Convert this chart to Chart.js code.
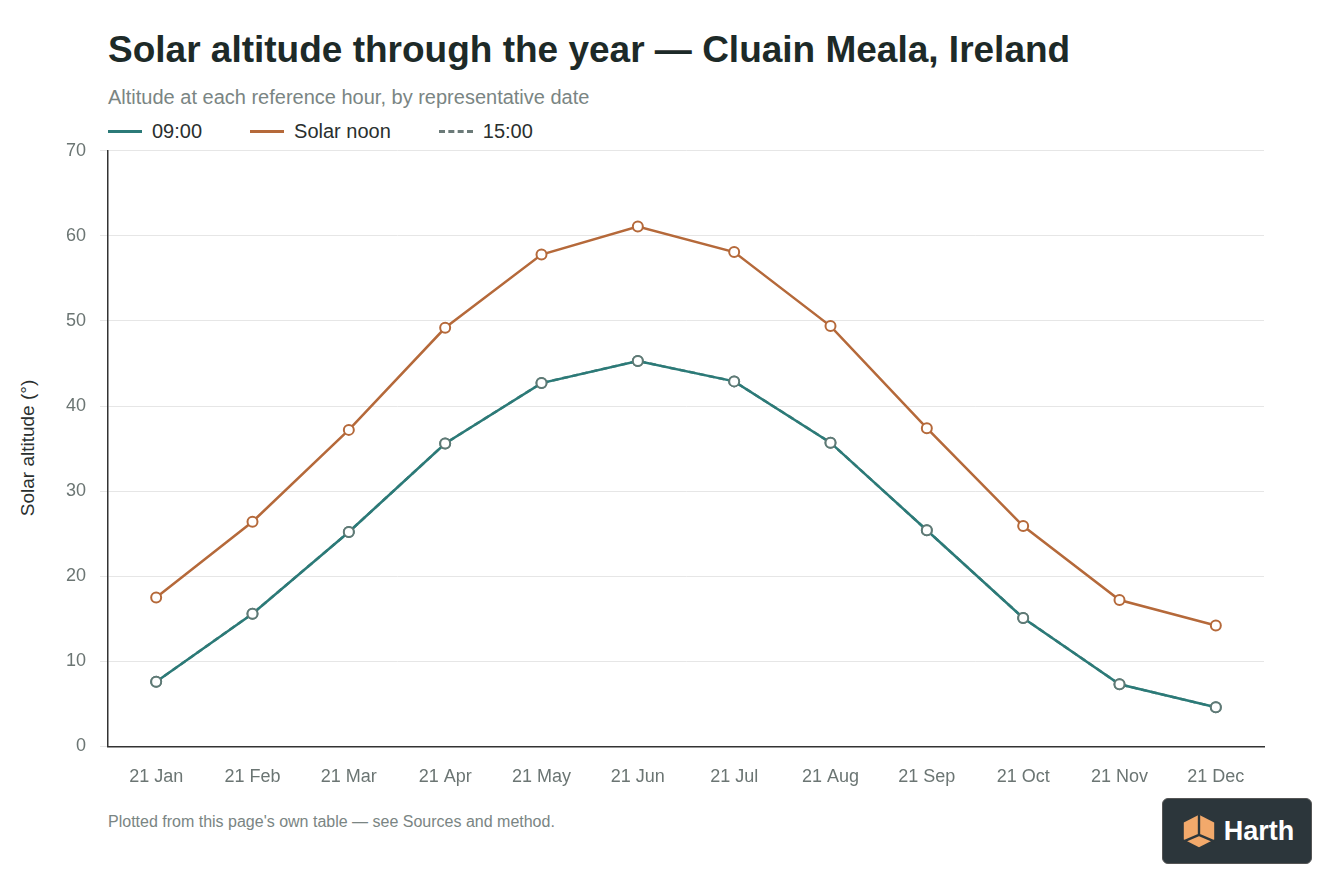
<!DOCTYPE html>
<html><head><meta charset="utf-8">
<script src="https://cdn.jsdelivr.net/npm/chart.js@4"></script>
<style>
body{margin:0;width:1344px;height:896px;background:#fff;font-family:"Helvetica Neue",Arial,"Liberation Sans",sans-serif;position:relative;overflow:hidden}
h1{position:absolute;left:108px;top:29px;margin:0;font-size:37px;font-weight:700;color:#1d2a28}
.sub{position:absolute;left:108px;top:86px;font-size:20px;color:#7a8583}
.legend{position:absolute;left:108px;top:120px;font-size:20px;color:#2a2f2e;display:flex}
.legend span{display:flex;align-items:center;margin-right:48px}
.legend i{display:inline-block;width:34px;height:0;border-top:3px solid;margin-right:10px}
.foot{position:absolute;left:108px;top:813px;font-size:16px;color:#7a8583}
.ytitle{position:absolute;left:28px;top:448px;transform:translate(-50%,-50%) rotate(-90deg);font-size:19px;color:#2a2f2e;white-space:nowrap}
.logo{position:absolute;left:1162px;top:798px;width:148px;height:64px;background:#2c363b;border-radius:6px;border:1px solid #555;display:flex;align-items:center;justify-content:center;color:#fff;font-weight:700;font-size:27px}
#wrap{position:absolute;left:0;top:126px;width:1290px;height:674px}
</style></head><body>
<h1>Solar altitude through the year — Cluain Meala, Ireland</h1>
<div class="sub">Altitude at each reference hour, by representative date</div>
<div class="legend">
<span><i style="border-color:#2b7a78"></i>09:00</span>
<span><i style="border-color:#b5693a"></i>Solar noon</span>
<span><i style="border-top:3px dashed #6b7a78"></i>15:00</span>
</div>
<div class="ytitle">Solar altitude (°)</div>
<div id="wrap"><canvas id="c"></canvas></div>
<div class="foot">Plotted from this page's own table — see Sources and method.</div>
<div class="logo"><svg width="38" height="38" viewBox="0 0 40 40" style="margin-right:6px"><polygon points="20,3 36,11 36,29 20,37 4,29 4,11" fill="#f2a96b"/><path d="M20,3 L20,24 M20,24 L4,31 M20,24 L36,31" stroke="#2c363b" stroke-width="2.5" fill="none"/></svg>Harth</div>
<script>
const dates = ['21 Jan','21 Feb','21 Mar','21 Apr','21 May','21 Jun','21 Jul','21 Aug','21 Sep','21 Oct','21 Nov','21 Dec'];
const morning = [7.6, 15.6, 25.2, 35.6, 42.7, 45.3, 42.9, 35.7, 25.4, 15.1, 7.3, 4.6];
const noon = [17.5, 26.4, 37.2, 49.2, 57.8, 61.1, 58.1, 49.4, 37.4, 25.9, 17.2, 14.2];
const afternoon = [7.6, 15.6, 25.2, 35.6, 42.7, 45.3, 42.9, 35.7, 25.4, 15.1, 7.3, 4.6];

const pt = {pointRadius:5, pointBackgroundColor:'#fff', pointBorderWidth:2, borderWidth:2.5, tension:0};
new Chart(document.getElementById('c'), {
  type:'line',
  data:{labels:dates, datasets:[
    Object.assign({label:'09:00', data:morning, borderColor:'#2b7a78', pointBorderColor:'#5f7a76'}, pt),
    Object.assign({label:'Solar noon', data:noon, borderColor:'#b5693a', pointBorderColor:'#b5693a'}, pt),
    Object.assign({label:'15:00', data:afternoon, borderColor:'#6b8a80', borderDash:[6,4], pointBorderColor:'#5f7a76'}, pt)
  ]},
  options:{
    responsive:true, maintainAspectRatio:false, animation:false,
    layout:{padding:{top:0,right:26,bottom:0}},
    plugins:{legend:{display:false}, tooltip:{enabled:false}},
    scales:{
      x:{offset:true, grid:{display:false}, border:{color:'#333',width:1.5},
         ticks:{color:'#6b7573', font:{size:18}, padding:12}},
      y:{min:0,max:70, ticks:{stepSize:10,color:'#6b7573',font:{size:18},padding:14},
         grid:{color:'#e6e6e6'}, border:{color:'#333',width:1.5},
         afterFit(s){s.width=108;}}
    }
  }
});
</script>
</body></html>
